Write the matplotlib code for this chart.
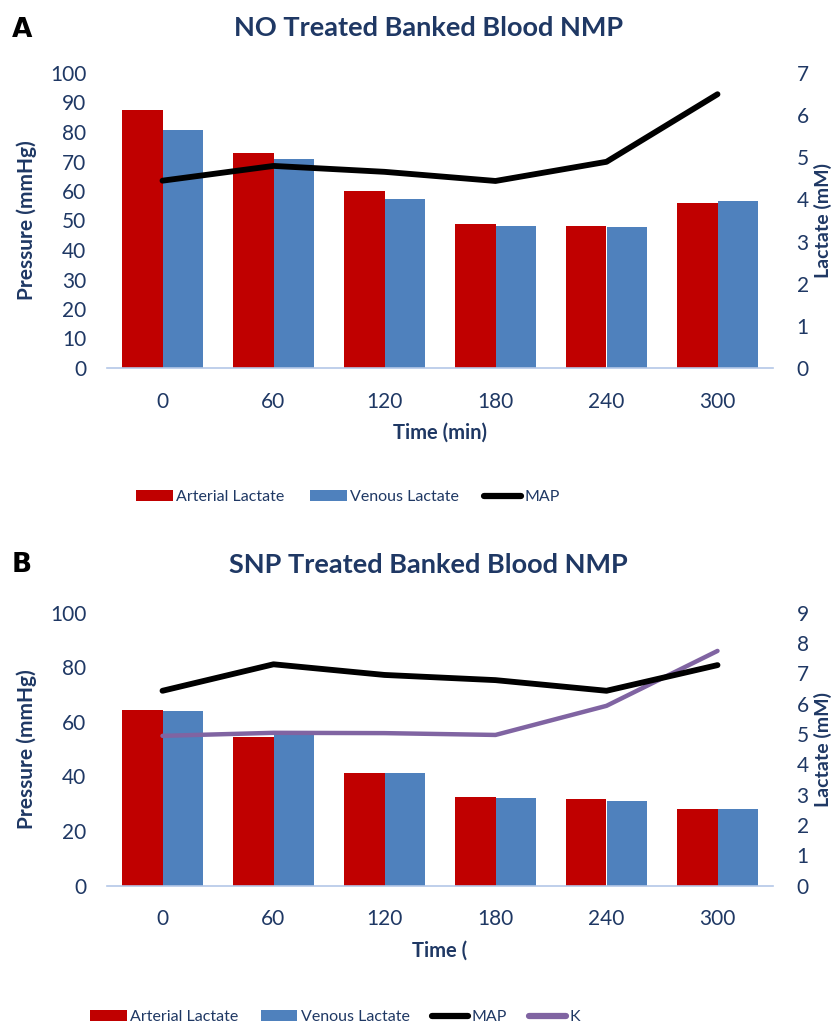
import numpy as np
import matplotlib
matplotlib.use("Agg")
import matplotlib.pyplot as plt
from matplotlib.patches import Patch
from matplotlib.lines import Line2D

# ---- data ----
times = ["0", "60", "120", "180", "240", "300"]

a_arterial = [6.13, 5.09, 4.19, 3.41, 3.38, 3.91]
a_venous = [5.65, 4.95, 4.00, 3.38, 3.34, 3.97]
a_map = [63.5, 68.5, 66.5, 63.4, 69.9, 92.8]

b_arterial = [5.79, 4.91, 3.71, 2.93, 2.86, 2.52]
b_venous = [5.76, 4.98, 3.71, 2.89, 2.80, 2.52]
b_map = [71.4, 81.1, 77.2, 75.3, 71.4, 80.8]
b_k = [4.94, 5.04, 5.03, 4.97, 5.93, 7.74]

title_a = "NO Treated Banked Blood NMP"
title_b = "SNP Treated Banked Blood NMP"

RED = "#C00000"
BLUE = "#4F81BD"
NAVY = "#1F3864"
PURPLE = "#8064A2"
FONT = "Lato"

plt.rcParams["font.family"] = [FONT, "DejaVu Sans"]

W, H = 840, 1026
fig = plt.figure(figsize=(W / 100, H / 100), dpi=100)


def fx(px):
    return px / W


def fy(py):
    return 1 - py / H


def panel(top, bottom, arterial, venous, map_vals, k_vals, lmax, lstep, rmax, xlabel):
    ax = fig.add_axes([fx(107), fy(bottom), fx(773) - fx(107), fy(top) - fy(bottom)])
    ax2 = ax.twinx()
    x = np.arange(len(times))
    w = 0.365
    ax2.bar(x - w / 2, arterial, width=w, color=RED, zorder=2)
    ax2.bar(x + w / 2, venous, width=w, color=BLUE, zorder=2)
    if k_vals is not None:
        ax2.plot(x, k_vals, color=PURPLE, lw=3.2, zorder=3, solid_capstyle="round")
    ax.plot(x, map_vals, color="black", lw=4.2, zorder=4, solid_capstyle="round",
            solid_joinstyle="round")
    ax.set_zorder(ax2.get_zorder() + 1)
    ax.patch.set_visible(False)

    ax.set_xlim(-0.5, len(times) - 0.5)
    ax.set_ylim(0, lmax)
    ax2.set_ylim(0, rmax)
    ax.set_yticks(np.arange(0, lmax + 1, lstep))
    ax2.set_yticks(np.arange(0, rmax + 1, 1))
    ax.set_xticks(x)
    ax.set_xticklabels(times)
    for a in (ax, ax2):
        for s in ("top", "left", "right", "bottom"):
            a.spines[s].set_visible(False)
        a.tick_params(length=0, labelsize=15, colors=NAVY, pad=15)
    ax.tick_params(axis="x", pad=17)
    ax2.tick_params(axis="y", pad=17)
    ax.spines["bottom"].set_visible(True)
    ax.spines["bottom"].set_color("#B4C7E7")
    ax.spines["bottom"].set_linewidth(1.2)
    ax.set_ylabel("Pressure (mmHg)", fontsize=15, fontweight="bold", color=NAVY, labelpad=9)
    ax2.set_ylabel("Lactate (mM)", fontsize=14, fontweight="bold", color=NAVY, labelpad=4)
    ax.set_xlabel(xlabel, fontsize=14.5, fontweight="bold", color=NAVY, labelpad=8)
    return ax, ax2


panel(73, 368, a_arterial, a_venous, a_map, None, 100, 10, 7, "Time (min)")
panel(612.7, 885.7, b_arterial, b_venous, b_map, b_k, 100, 20, 9, "Time (")

fig.text(fx(429), fy(28), title_a, ha="center", va="center", fontsize=19.5,
         fontweight="bold", color=NAVY)
fig.text(fx(428), fy(565), title_b, ha="center", va="center", fontsize=19.5,
         fontweight="bold", color=NAVY)
fig.text(fx(22), fy(30), "A", ha="center", va="center", fontsize=19,
         fontweight="bold", color="black", family="DejaVu Sans")
fig.text(fx(22), fy(565), "B", ha="center", va="center", fontsize=19,
         fontweight="bold", color="black", family="DejaVu Sans")


def legend(handles, labels, cx, cy, colsp):
    fig.legend(handles, labels, loc="center", bbox_to_anchor=(fx(cx), fy(cy)),
               ncol=len(handles), frameon=False, fontsize=11.5, labelcolor=NAVY,
               handlelength=2.3, handleheight=0.75, handletextpad=0.2,
               columnspacing=colsp, borderpad=0)


bar_r = Patch(facecolor=RED)
bar_b = Patch(facecolor=BLUE)
ln_map = Line2D([], [], color="black", lw=4.5, solid_capstyle="round")
ln_k = Line2D([], [], color=PURPLE, lw=4.5, solid_capstyle="round")
legend([bar_r, bar_b, ln_map], ["Arterial Lactate", "Venous Lactate", "MAP"], 348, 497, 1.6)
legend([bar_r, bar_b, ln_map, ln_k], ["Arterial Lactate", "Venous Lactate", "MAP", "K"],
       335, 1017, 1.4)

fig.savefig("out.png", dpi=100)
